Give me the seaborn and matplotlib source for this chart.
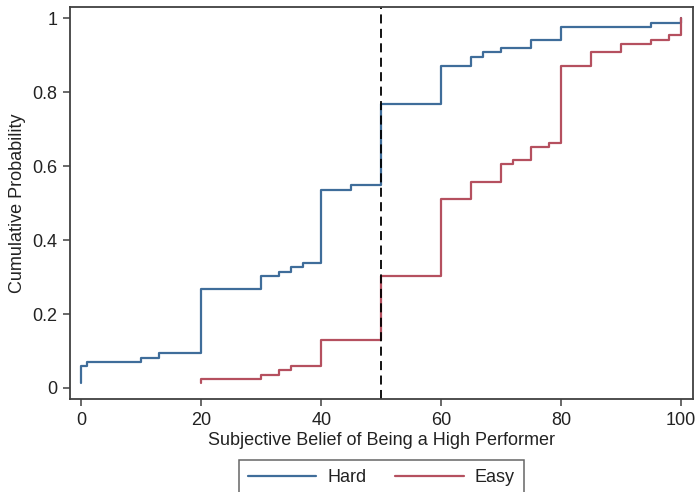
import matplotlib
matplotlib.use("Agg")
import matplotlib.pyplot as plt
import seaborn as sns
import pandas as pd
from matplotlib.lines import Line2D

# Empirical CDF step points (belief value, cumulative probability)
hard_x = [0, 0, 1, 10, 13, 20, 30, 33, 35, 37, 40, 45, 50, 60, 65, 67, 70, 75, 80, 95, 100]
hard_p = [0.013, 0.060, 0.070, 0.082, 0.094, 0.268, 0.303, 0.315, 0.327, 0.337, 0.535,
          0.548, 0.768, 0.872, 0.896, 0.908, 0.919, 0.942, 0.977, 0.989, 1.0]

easy_x = [20, 20, 30, 33, 35, 40, 50, 60, 65, 70, 72, 75, 78, 80, 85, 90, 95, 98, 100]
easy_p = [0.013, 0.024, 0.036, 0.048, 0.060, 0.129, 0.303, 0.512, 0.558, 0.605, 0.617,
          0.652, 0.664, 0.872, 0.908, 0.932, 0.943, 0.955, 1.0]

groups = ["Hard", "Easy"]
colors = {"Hard": "#3f6d9a", "Easy": "#b5505f"}
x_ticks = [0, 20, 40, 60, 80, 100]
y_ticks = [0, 0.2, 0.4, 0.6, 0.8, 1.0]
y_tick_labels = ["0", "0.2", "0.4", "0.6", "0.8", "1"]
threshold = 50

df = pd.concat([
    pd.DataFrame({"belief": hard_x, "prob": hard_p, "group": "Hard"}),
    pd.DataFrame({"belief": easy_x, "prob": easy_p, "group": "Easy"}),
], ignore_index=True)

sns.set_theme(style="white")
plt.rcParams["font.family"] = ["Liberation Sans", "DejaVu Sans"]
plt.rcParams["font.size"] = 13

fig = plt.figure(figsize=(6.98, 4.92), dpi=100)
ax = fig.add_axes([0.1003, 0.189, 0.8925, 0.7968])

for g in groups:
    sub = df[df["group"] == g]
    sns.lineplot(data=sub, x="belief", y="prob", ax=ax, estimator=None, sort=False,
                 drawstyle="steps-post", color=colors[g], linewidth=1.6, legend=False)

ax.axvline(threshold, color="black", linewidth=1.3, linestyle=(0, (5, 3)))

ax.set_xlim(-1.9, 102)
ax.set_ylim(-0.03, 1.031)
ax.set_xticks(x_ticks)
ax.set_xticklabels([str(t) for t in x_ticks])
ax.set_yticks(y_ticks)
ax.set_yticklabels(y_tick_labels)

for s in ax.spines.values():
    s.set_visible(True)
    s.set_color("#404040")
    s.set_linewidth(1.3)

ax.tick_params(axis="both", which="major", direction="out", length=5, width=1.1,
               color="#404040", labelsize=13, labelcolor="#222222",
               bottom=True, left=True, pad=4)

ax.set_xlabel("Subjective Belief of Being a High Performer", fontsize=13, color="#222222")
ax.set_ylabel("Cumulative Probability", fontsize=13, color="#222222")
ax.xaxis.set_label_coords(0.5, -0.085)
ax.yaxis.set_label_coords(-0.071, 0.5)

handles = [Line2D([0], [0], color=colors[g], linewidth=1.6) for g in groups]
leg = fig.legend(handles, groups, loc="upper center", bbox_to_anchor=(0.546, 0.065),
                 ncol=2, frameon=True, fancybox=False, fontsize=13,
                 handlelength=3.8, handletextpad=0.6, columnspacing=1.6,
                 borderpad=0.5, borderaxespad=0.0)
leg.get_frame().set_edgecolor("#404040")
leg.get_frame().set_linewidth(1.1)
for t in leg.get_texts():
    t.set_color("#222222")

fig.savefig("out.png", dpi=100)
